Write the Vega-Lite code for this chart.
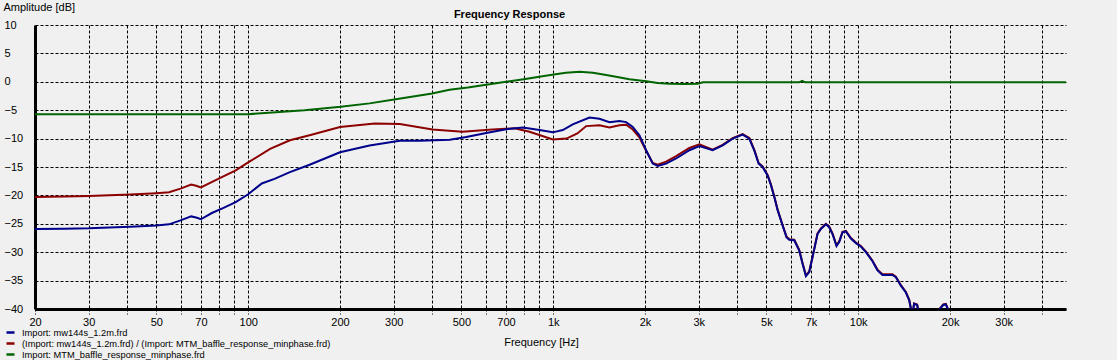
{
  "$schema": "https://vega.github.io/schema/vega-lite/v6.json",
  "width": 1031,
  "height": 284,
  "autosize": {"type": "none"},
  "padding": {"left": 35, "top": 25, "right": 51, "bottom": 51},
  "background": "#F0F0F0",
  "title": {"text": "Frequency Response", "font": "Liberation Sans", "fontSize": 11, "fontWeight": "bold", "color": "black", "anchor": "middle", "dx": -41, "dy": 36, "baseline": "alphabetic", "offset": 8},
  "config": {"view": {"stroke": null}},
  "data": {"values": [
    {"s":"baffle","f":20,"db":-5.7},{"s":"baffle","f":50,"db":-5.7},{"s":"baffle","f":100,"db":-5.7},{"s":"baffle","f":120,"db":-5.4},{"s":"baffle","f":153,"db":-5.0},{"s":"baffle","f":201,"db":-4.4},{"s":"baffle","f":250,"db":-3.8},{"s":"baffle","f":301,"db":-3.1},{"s":"baffle","f":401,"db":-2.05},{"s":"baffle","f":457,"db":-1.4},{"s":"baffle","f":525,"db":-1.0},{"s":"baffle","f":603,"db":-0.5},{"s":"baffle","f":700,"db":0.0},{"s":"baffle","f":801,"db":0.45},{"s":"baffle","f":900,"db":0.9},{"s":"baffle","f":1005,"db":1.3},{"s":"baffle","f":1100,"db":1.6},{"s":"baffle","f":1220,"db":1.75},{"s":"baffle","f":1350,"db":1.6},{"s":"baffle","f":1492,"db":1.2},{"s":"baffle","f":1640,"db":0.8},{"s":"baffle","f":1778,"db":0.45},{"s":"baffle","f":2017,"db":0.1},{"s":"baffle","f":2200,"db":-0.2},{"s":"baffle","f":2404,"db":-0.35},{"s":"baffle","f":2700,"db":-0.4},{"s":"baffle","f":2976,"db":-0.35},{"s":"baffle","f":3100,"db":-0.1},{"s":"baffle","f":4000,"db":-0.1},{"s":"baffle","f":6400,"db":-0.1},{"s":"baffle","f":6550,"db":0.15},{"s":"baffle","f":6700,"db":-0.1},{"s":"baffle","f":10000,"db":-0.1},{"s":"baffle","f":48000,"db":-0.1},

    {"s":"ratio","f":20,"db":-20.3},{"s":"ratio","f":25,"db":-20.2},{"s":"ratio","f":30,"db":-20.1},{"s":"ratio","f":41,"db":-19.85},{"s":"ratio","f":50,"db":-19.6},{"s":"ratio","f":55,"db":-19.45},{"s":"ratio","f":60,"db":-18.8},{"s":"ratio","f":65,"db":-18.1},{"s":"ratio","f":67.5,"db":-18.3},{"s":"ratio","f":70,"db":-18.6},{"s":"ratio","f":75,"db":-17.8},{"s":"ratio","f":81,"db":-16.9},{"s":"ratio","f":91,"db":-15.6},{"s":"ratio","f":100,"db":-14.2},{"s":"ratio","f":118,"db":-11.8},{"s":"ratio","f":137,"db":-10.3},{"s":"ratio","f":159,"db":-9.4},{"s":"ratio","f":200,"db":-7.95},{"s":"ratio","f":260,"db":-7.35},{"s":"ratio","f":314,"db":-7.45},{"s":"ratio","f":402,"db":-8.4},{"s":"ratio","f":504,"db":-8.8},{"s":"ratio","f":632,"db":-8.4},{"s":"ratio","f":747,"db":-8.2},{"s":"ratio","f":836,"db":-8.8},{"s":"ratio","f":997,"db":-10.15},{"s":"ratio","f":1106,"db":-10.0},{"s":"ratio","f":1200,"db":-9.1},{"s":"ratio","f":1283,"db":-7.8},{"s":"ratio","f":1418,"db":-7.65},{"s":"ratio","f":1529,"db":-8.05},{"s":"ratio","f":1649,"db":-7.65},{"s":"ratio","f":1734,"db":-7.55},{"s":"ratio","f":1823,"db":-8.4},{"s":"ratio","f":1917,"db":-9.8},{"s":"ratio","f":2017,"db":-12.15},{"s":"ratio","f":2120,"db":-14.3},{"s":"ratio","f":2201,"db":-14.6},{"s":"ratio","f":2345,"db":-14.05},{"s":"ratio","f":2529,"db":-13.1},{"s":"ratio","f":2796,"db":-11.65},{"s":"ratio","f":3014,"db":-11.0},{"s":"ratio","f":3333,"db":-11.95},{"s":"ratio","f":3594,"db":-11.1},{"s":"ratio","f":3876,"db":-9.9},{"s":"ratio","f":4179,"db":-9.2},{"s":"ratio","f":4395,"db":-9.9},{"s":"ratio","f":4564,"db":-12.0},{"s":"ratio","f":4715,"db":-14.3},{"s":"ratio","f":4859,"db":-14.9},{"s":"ratio","f":5045,"db":-16.4},{"s":"ratio","f":5176,"db":-18.1},{"s":"ratio","f":5307,"db":-20.2},{"s":"ratio","f":5442,"db":-22.5},{"s":"ratio","f":5650,"db":-25.2},{"s":"ratio","f":5823,"db":-27.3},{"s":"ratio","f":5942,"db":-27.7},{"s":"ratio","f":6170,"db":-27.8},{"s":"ratio","f":6406,"db":-29.6},{"s":"ratio","f":6569,"db":-31.9},{"s":"ratio","f":6739,"db":-34.1},{"s":"ratio","f":6909,"db":-33.4},{"s":"ratio","f":7083,"db":-30.8},{"s":"ratio","f":7355,"db":-26.7},{"s":"ratio","f":7546,"db":-25.8},{"s":"ratio","f":7836,"db":-25.0},{"s":"ratio","f":8033,"db":-25.5},{"s":"ratio","f":8236,"db":-26.7},{"s":"ratio","f":8489,"db":-28.8},{"s":"ratio","f":8663,"db":-28.1},{"s":"ratio","f":8882,"db":-26.4},{"s":"ratio","f":9112,"db":-26.25},{"s":"ratio","f":9463,"db":-27.5},{"s":"ratio","f":9827,"db":-28.3},{"s":"ratio","f":10200,"db":-28.9},{"s":"ratio","f":10600,"db":-29.9},{"s":"ratio","f":11140,"db":-31.5},{"s":"ratio","f":11570,"db":-33.1},{"s":"ratio","f":12010,"db":-33.9},{"s":"ratio","f":12950,"db":-33.9},{"s":"ratio","f":13290,"db":-34.3},{"s":"ratio","f":13800,"db":-35.8},{"s":"ratio","f":14330,"db":-37.0},{"s":"ratio","f":14700,"db":-38.4},{"s":"ratio","f":14950,"db":-40.4},{"s":"ratio","f":15100,"db":-40.5},{"s":"ratio","f":15250,"db":-39.0},{"s":"ratio","f":15600,"db":-39.2},{"s":"ratio","f":15770,"db":-40.4},{"s":"ratio","f":16500,"db":-43},{"s":"ratio","f":17500,"db":-43},{"s":"ratio","f":18300,"db":-40.5},{"s":"ratio","f":18520,"db":-39.9},{"s":"ratio","f":19000,"db":-39.2},{"s":"ratio","f":19370,"db":-39.1},{"s":"ratio","f":19850,"db":-40.4},{"s":"ratio","f":21000,"db":-44},{"s":"ratio","f":30000,"db":-46},{"s":"ratio","f":48000,"db":-48},

    {"s":"meas","f":20,"db":-25.9},{"s":"meas","f":25,"db":-25.85},{"s":"meas","f":30,"db":-25.8},{"s":"meas","f":41,"db":-25.5},{"s":"meas","f":50,"db":-25.3},{"s":"meas","f":55,"db":-25.1},{"s":"meas","f":60,"db":-24.4},{"s":"meas","f":65,"db":-23.7},{"s":"meas","f":67.5,"db":-23.9},{"s":"meas","f":70,"db":-24.2},{"s":"meas","f":76,"db":-23.1},{"s":"meas","f":83,"db":-22.2},{"s":"meas","f":91,"db":-21.2},{"s":"meas","f":100,"db":-19.8},{"s":"meas","f":110.8,"db":-17.9},{"s":"meas","f":122,"db":-17.1},{"s":"meas","f":137,"db":-15.9},{"s":"meas","f":159,"db":-14.6},{"s":"meas","f":200,"db":-12.4},{"s":"meas","f":250,"db":-11.2},{"s":"meas","f":314,"db":-10.4},{"s":"meas","f":365,"db":-10.4},{"s":"meas","f":458,"db":-10.2},{"s":"meas","f":519,"db":-9.7},{"s":"meas","f":603,"db":-9.0},{"s":"meas","f":702,"db":-8.35},{"s":"meas","f":795,"db":-8.05},{"s":"meas","f":902,"db":-8.5},{"s":"meas","f":997,"db":-8.9},{"s":"meas","f":1075,"db":-8.5},{"s":"meas","f":1159,"db":-7.5},{"s":"meas","f":1315,"db":-6.3},{"s":"meas","f":1418,"db":-6.5},{"s":"meas","f":1529,"db":-7.1},{"s":"meas","f":1649,"db":-6.9},{"s":"meas","f":1734,"db":-7.1},{"s":"meas","f":1823,"db":-7.95},{"s":"meas","f":1917,"db":-9.4},{"s":"meas","f":2017,"db":-12.05},{"s":"meas","f":2120,"db":-14.4},{"s":"meas","f":2201,"db":-14.8},{"s":"meas","f":2345,"db":-14.4},{"s":"meas","f":2529,"db":-13.5},{"s":"meas","f":2796,"db":-12.05},{"s":"meas","f":3014,"db":-11.3},{"s":"meas","f":3333,"db":-12.05},{"s":"meas","f":3594,"db":-11.2},{"s":"meas","f":3876,"db":-10.0},{"s":"meas","f":4179,"db":-9.3},{"s":"meas","f":4395,"db":-10.0},{"s":"meas","f":4564,"db":-12.1},{"s":"meas","f":4715,"db":-14.4},{"s":"meas","f":4859,"db":-15.0},{"s":"meas","f":5045,"db":-16.5},{"s":"meas","f":5176,"db":-18.2},{"s":"meas","f":5307,"db":-20.3},{"s":"meas","f":5442,"db":-22.6},{"s":"meas","f":5650,"db":-25.3},{"s":"meas","f":5823,"db":-27.4},{"s":"meas","f":5942,"db":-27.8},{"s":"meas","f":6170,"db":-27.9},{"s":"meas","f":6406,"db":-29.7},{"s":"meas","f":6569,"db":-32.05},{"s":"meas","f":6739,"db":-34.2},{"s":"meas","f":6909,"db":-33.5},{"s":"meas","f":7083,"db":-30.9},{"s":"meas","f":7355,"db":-26.8},{"s":"meas","f":7546,"db":-25.9},{"s":"meas","f":7836,"db":-25.1},{"s":"meas","f":8033,"db":-25.6},{"s":"meas","f":8236,"db":-26.8},{"s":"meas","f":8489,"db":-28.9},{"s":"meas","f":8663,"db":-28.2},{"s":"meas","f":8882,"db":-26.5},{"s":"meas","f":9112,"db":-26.35},{"s":"meas","f":9463,"db":-27.6},{"s":"meas","f":9827,"db":-28.4},{"s":"meas","f":10200,"db":-29.0},{"s":"meas","f":10600,"db":-30.0},{"s":"meas","f":11140,"db":-31.6},{"s":"meas","f":11570,"db":-33.2},{"s":"meas","f":12010,"db":-34.0},{"s":"meas","f":12950,"db":-34.0},{"s":"meas","f":13290,"db":-34.4},{"s":"meas","f":13800,"db":-35.9},{"s":"meas","f":14330,"db":-37.1},{"s":"meas","f":14700,"db":-38.5},{"s":"meas","f":14950,"db":-40.5},{"s":"meas","f":15100,"db":-40.6},{"s":"meas","f":15250,"db":-39.1},{"s":"meas","f":15600,"db":-39.3},{"s":"meas","f":15770,"db":-40.5},{"s":"meas","f":16500,"db":-43},{"s":"meas","f":17500,"db":-43},{"s":"meas","f":18300,"db":-40.6},{"s":"meas","f":18520,"db":-40.0},{"s":"meas","f":19000,"db":-39.3},{"s":"meas","f":19370,"db":-39.2},{"s":"meas","f":19850,"db":-40.5},{"s":"meas","f":21000,"db":-44},{"s":"meas","f":30000,"db":-46},{"s":"meas","f":48000,"db":-48}
  ]},
  "encoding": {
    "x": {"field": "f", "type": "quantitative",
      "scale": {"type": "log", "domain": [20, 48000], "nice": false},
      "axis": {
        "values": [20,30,40,50,60,70,80,90,100,200,300,400,500,600,700,800,900,1000,2000,3000,4000,5000,6000,7000,8000,9000,10000,20000,30000,40000],
        "labelExpr": "indexof([20,30,50,70,100,200,300,500,700],datum.value)>=0 ? ''+datum.value : (indexof([1000,2000,3000,5000,7000,10000,20000,30000],datum.value)>=0 ? (datum.value/1000)+'k' : '')",
        "grid": true, "gridColor": "black", "gridDash": [3,2], "gridWidth": 1, "gridOpacity": 1,
        "domain": true, "domainColor": "black", "domainWidth": 3,
        "ticks": true, "tickColor": "black", "tickDash": [2,2], "tickSize": 5, "tickWidth": 1,
        "labelFont": "Liberation Sans", "labelFontSize": 11, "labelColor": "black", "labelPadding": 2, "labelFlush": false, "labelOverlap": false,
        "title": "Frequency [Hz]", "titleFont": "Liberation Sans", "titleFontSize": 11, "titleFontWeight": "normal", "titleColor": "black",
        "titleX": 506, "titleY": 27, "titleAlign": "center", "titleBaseline": "top"
      }},
    "y": {"field": "db", "type": "quantitative",
      "scale": {"domain": [-40, 10], "nice": false, "zero": false},
      "axis": {
        "values": [-40,-35,-30,-25,-20,-15,-10,-5,0,5,10],
        "grid": true, "gridColor": "black", "gridDash": [3,2], "gridWidth": 1, "gridOpacity": 1,
        "domain": true, "domainColor": "black", "domainWidth": 3,
        "ticks": false, "tickSize": 0,
        "labelFont": "Liberation Sans", "labelFontSize": 11, "labelColor": "black", "labelAlign": "left", "labelBaseline": "middle", "labelPadding": 31,
        "title": "Amplitude [dB]", "titleFont": "Liberation Sans", "titleFontSize": 11, "titleFontWeight": "normal", "titleColor": "black",
        "titleAngle": 0, "titleAlign": "left", "titleBaseline": "top", "titleX": -32, "titleY": -24
      }},
    "color": {"field": "s", "type": "nominal",
      "scale": {"domain": ["meas", "ratio", "baffle"], "range": ["#00008C", "#8C0000", "#006400"]},
      "legend": {
        "orient": "none", "legendX": -30, "legendY": 302, "title": null, "padding": 0,
        "symbolType": "stroke", "symbolSize": 64, "symbolStrokeWidth": 2.5,
        "labelFont": "Liberation Sans", "labelFontSize": 9.3, "labelColor": "black", "labelOffset": 6, "labelLimit": 600, "rowPadding": 0,
        "labelExpr": "datum.value=='meas' ? 'Import: mw144s_1.2m.frd' : (datum.value=='ratio' ? '(Import: mw144s_1.2m.frd) / (Import: MTM_baffle_response_minphase.frd)' : 'Import: MTM_baffle_response_minphase.frd')"
      }}
  },
  "layer": [
    {"transform": [{"filter": "datum.s=='baffle'"}], "mark": {"type": "line", "strokeWidth": 2, "clip": true}},
    {"transform": [{"filter": "datum.s=='ratio'"}], "mark": {"type": "line", "strokeWidth": 2, "clip": true}},
    {"transform": [{"filter": "datum.s=='meas'"}], "mark": {"type": "line", "strokeWidth": 2, "clip": true}}
  ]
}
